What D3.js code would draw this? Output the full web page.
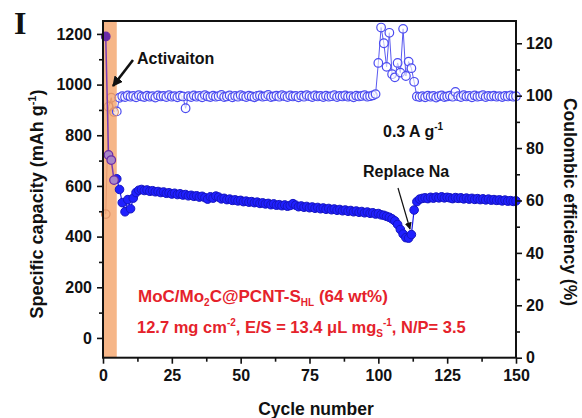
<!DOCTYPE html>
<html>
<head>
<meta charset="utf-8">
<script src="https://cdn.jsdelivr.net/npm/d3@7"></script>
<style>
  html, body { margin: 0; padding: 0; background: #fff; }
  svg text { font-family: Arial, "Liberation Sans", sans-serif; font-weight: bold; }
</style>
</head>
<body>
<div id="chart"></div>
<script>
// activation cycles (shaded band)
var actCycles = [1, 2, 3, 4];
var actCapacity = [1190, 722, 702, 623];
var actCE = [54.8, 95.8, 99.2, 93.8];

// cycles 5..150
var firstCycle = 5;
var capacity = [
  628, 586, 534, 498, 546, 510, 552, 574, 583, 586,
  582, 584, 579, 581, 577, 578, 574, 576, 571, 573,
  568, 571, 566, 569, 564, 566, 561, 563, 559, 561,
  556, 559, 554, 548, 557, 552, 560, 556, 549, 551,
  546, 548, 543, 545, 541, 543, 538, 540, 536, 538,
  534, 536, 531, 533, 529, 531, 526, 529, 524, 526,
  522, 525, 520, 523, 530, 524, 518, 521, 516, 519,
  514, 517, 512, 515, 510, 513, 508, 511, 506, 509,
  504, 507, 502, 505, 500, 503, 498, 501, 496, 499,
  494, 497, 492, 494, 489, 491, 486, 484, 480, 476,
  470, 462, 448, 428, 410, 396, 394, 408, 505, 538,
  548, 551, 553, 550, 555, 552, 556, 553, 557, 553,
  555, 553, 550, 554, 551, 553, 549, 552, 548, 551,
  547, 550, 546, 549, 545, 548, 544, 546, 543, 545,
  541, 544, 540, 542, 539, 541
];
var ce = [
  94.0, 99.2, 99.8, 99.5, 100.1, 99.6, 99.9, 99.4, 100.2, 99.7,
  99.5, 100.0, 99.6, 99.8, 99.3, 100.1, 99.7, 99.9, 99.5, 100.2,
  99.6, 99.8, 99.4, 100.0, 99.7, 95.2, 99.8, 99.5, 100.1, 99.6,
  99.9, 99.4, 100.2, 99.7, 99.5, 100.0, 99.6, 99.8, 100.3, 99.5,
  99.7, 100.1, 99.4, 99.9, 99.6, 100.2, 99.8, 99.5, 100.0, 99.7,
  99.4, 99.9, 100.1, 99.6, 99.8, 100.3, 99.5, 99.7, 100.0, 99.6,
  100.2, 99.8, 99.5, 100.1, 99.7, 99.9, 99.4, 100.0, 99.6, 100.2,
  99.8, 99.5, 100.1, 99.7, 99.9, 99.5, 100.0, 99.6, 99.8, 100.2,
  99.5, 99.9, 99.7, 100.1, 99.6, 99.8, 99.4, 100.0, 99.7, 99.9,
  100.2, 99.6, 99.8, 100.1, 100.6, 112.5, 126.0, 120.0, 111.0, 124.0,
  108.2, 107.0, 112.5, 108.8, 125.5, 107.5, 113.0, 110.5, 105.3, 99.7,
  99.5, 99.8, 99.4, 100.0, 99.6, 99.9, 99.3, 99.8, 100.1, 99.5,
  99.7, 100.0, 99.6, 101.4, 99.8, 99.5, 100.2, 99.7, 99.9, 99.4,
  100.1, 99.6, 99.8, 100.2, 99.5, 99.9, 99.7, 100.0, 99.6, 99.8,
  99.5, 99.9, 99.7, 100.1, 99.6, 99.8
];

var xTicks = [0, 25, 50, 75, 100, 125, 150];
var xMinor = [12.5, 37.5, 62.5, 87.5, 112.5, 137.5];
var capTicks = [0, 200, 400, 600, 800, 1000, 1200];
var capMinor = [100, 300, 500, 700, 900, 1100];
var ceTicks = [0, 20, 40, 60, 80, 100, 120];
var ceMinor = [10, 30, 50, 70, 90, 110];

(function() {
var W = 582, H = 418;
var pL = 103, pR = 516, pT = 21, pB = 357.7;

var svg = d3.select("#chart").append("svg")
  .attr("width", W).attr("height", H);

var defs = svg.append("defs");
defs.append("marker").attr("id", "headBig")
  .attr("viewBox", "0 0 10 10").attr("refX", 9).attr("refY", 5)
  .attr("markerWidth", 4).attr("markerHeight", 4)
  .attr("markerUnits", "strokeWidth").attr("orient", "auto")
  .append("path").attr("d", "M0,0 L10,5 L0,10 z").attr("fill", "#111");
defs.append("marker").attr("id", "headSmall")
  .attr("viewBox", "0 0 10 10").attr("refX", 9).attr("refY", 5)
  .attr("markerWidth", 6).attr("markerHeight", 6)
  .attr("markerUnits", "strokeWidth").attr("orient", "auto")
  .append("path").attr("d", "M0,0 L10,5 L0,10 z").attr("fill", "#111");

var x = d3.scaleLinear().domain([0, 150]).range([pL, pR]);
var yCap = d3.scaleLinear().domain([-78, 1251]).range([pB, pT]);
var yCE = d3.scaleLinear().domain([0, 128.5]).range([pB, pT]);

var cycles = capacity.map(function(d, i) { return firstCycle + i; });
var capData = capacity.map(function(d, i) { return [cycles[i], d]; });
var ceData = ce.map(function(d, i) { return [cycles[i], d]; });
var actCapData = actCapacity.map(function(d, i) { return [actCycles[i], d]; });
var actCEData = actCE.map(function(d, i) { return [actCycles[i], d]; });

// activation band
svg.append("rect")
  .attr("x", x(0)).attr("y", pT)
  .attr("width", x(5) - x(0)).attr("height", pB - pT)
  .attr("fill", "#f6b688");

var lineCap = d3.line().x(function(d) { return x(d[0]); }).y(function(d) { return yCap(d[1]); });
var lineCE = d3.line().x(function(d) { return x(d[0]); }).y(function(d) { return yCE(d[1]); });

// coulombic efficiency
svg.append("path").datum(ceData).attr("d", lineCE)
  .attr("fill", "none").attr("stroke", "#5a5af0").attr("stroke-width", 1);
svg.selectAll(".ce").data(ceData).enter().append("circle")
  .attr("class", "ce")
  .attr("cx", function(d) { return x(d[0]); })
  .attr("cy", function(d) { return yCE(d[1]); })
  .attr("r", 4.3)
  .attr("fill", "#fff").attr("fill-opacity", 0.6)
  .attr("stroke", "#4b4bf0").attr("stroke-width", 1.2);

svg.append("path").datum(actCEData).attr("d", lineCE)
  .attr("fill", "none").attr("stroke", "#e49a70").attr("stroke-width", 1);
svg.selectAll(".actce").data(actCEData).enter().append("circle")
  .attr("class", "actce")
  .attr("cx", function(d) { return x(d[0]); })
  .attr("cy", function(d) { return yCE(d[1]); })
  .attr("r", 4.3)
  .attr("fill", "none")
  .attr("stroke", "#e0946a").attr("stroke-width", 1.2);

// capacity
svg.append("path").datum(capData).attr("d", lineCap)
  .attr("fill", "none").attr("stroke", "#1a1ae8").attr("stroke-width", 1.2);
svg.selectAll(".cap").data(capData).enter().append("circle")
  .attr("class", "cap")
  .attr("cx", function(d) { return x(d[0]); })
  .attr("cy", function(d) { return yCap(d[1]); })
  .attr("r", 4.3)
  .attr("fill", "#2020ff")
  .attr("stroke", "#1515c0").attr("stroke-width", 1);

svg.append("path").datum(actCapData).attr("d", lineCap)
  .attr("fill", "none").attr("stroke", "#7a3cb4").attr("stroke-width", 1.5);
svg.selectAll(".actcap").data(actCapData).enter().append("circle")
  .attr("class", "actcap")
  .attr("cx", function(d) { return x(d[0]); })
  .attr("cy", function(d) { return yCap(d[1]); })
  .attr("r", 4.3)
  .attr("fill", function(d, i) { return i === 0 ? "#6a2aa8" : "#a887c8"; })
  .attr("stroke", "#6a2aa8").attr("stroke-width", 1.2);

// axes
function styleAxis(g) {
  g.selectAll(".domain").remove();
  g.selectAll(".tick line").attr("stroke", "#111").attr("stroke-width", 1.6);
  g.selectAll(".tick text").attr("fill", "#111")
    .style("font-family", "Arial, 'Liberation Sans', sans-serif")
    .style("font-weight", "bold").style("font-size", "16px");
}

svg.append("g").attr("transform", "translate(0," + pB + ")")
  .call(d3.axisBottom(x).tickValues(xTicks).tickSize(6).tickPadding(6).tickFormat(d3.format("d")))
  .call(styleAxis);
svg.append("g").attr("transform", "translate(0," + pB + ")")
  .call(d3.axisBottom(x).tickValues(xMinor).tickSize(4).tickFormat(""))
  .call(styleAxis);

svg.append("g").attr("transform", "translate(" + pL + ",0)")
  .call(d3.axisLeft(yCap).tickValues(capTicks).tickSize(6).tickPadding(5).tickFormat(d3.format("d")))
  .call(styleAxis);
svg.append("g").attr("transform", "translate(" + pL + ",0)")
  .call(d3.axisLeft(yCap).tickValues(capMinor).tickSize(4).tickFormat(""))
  .call(styleAxis);

svg.append("g").attr("transform", "translate(" + pR + ",0)")
  .call(d3.axisRight(yCE).tickValues(ceTicks).tickSize(6).tickPadding(4).tickFormat(d3.format("d")))
  .call(styleAxis);
svg.append("g").attr("transform", "translate(" + pR + ",0)")
  .call(d3.axisRight(yCE).tickValues(ceMinor).tickSize(4).tickFormat(""))
  .call(styleAxis);

// frame
svg.append("rect")
  .attr("x", pL).attr("y", pT)
  .attr("width", pR - pL).attr("height", pB - pT)
  .attr("fill", "none").attr("stroke", "#111").attr("stroke-width", 2);

// axis titles
svg.append("text")
  .attr("x", 316).attr("y", 415)
  .attr("text-anchor", "middle").style("font-size", "17.5px").attr("fill", "#111")
  .text("Cycle number");

var yl = svg.append("text")
  .attr("transform", "translate(43,204) rotate(-90)")
  .attr("text-anchor", "middle").style("font-size", "18px").attr("fill", "#111");
yl.append("tspan").text("Specific capacity (mAh g");
yl.append("tspan").attr("dy", -7).style("font-size", "11px").text("-1");
yl.append("tspan").attr("dy", 7).text(")");

svg.append("text")
  .attr("transform", "translate(564,202) rotate(90)")
  .attr("text-anchor", "middle").style("font-size", "17.5px").attr("fill", "#111")
  .text("Coulombic efficiency (%)");

// panel letter
svg.append("text")
  .attr("x", 14).attr("y", 34)
  .style("font-family", "'Liberation Serif', 'Times New Roman', serif")
  .style("font-size", "32px").attr("fill", "#111")
  .text("I");

// annotations
svg.append("text").attr("x", 137).attr("y", 64)
  .style("font-size", "16px").attr("fill", "#111").text("Activaiton");
svg.append("line")
  .attr("x1", 133).attr("y1", 60).attr("x2", 113).attr("y2", 86)
  .attr("stroke", "#111").attr("stroke-width", 2.6)
  .attr("marker-end", "url(#headBig)");

var cur = svg.append("text").attr("x", 383).attr("y", 137)
  .style("font-size", "16px").attr("fill", "#111");
cur.append("tspan").text("0.3 A g");
cur.append("tspan").attr("dy", -7).style("font-size", "10px").text("-1");

svg.append("text").attr("x", 363).attr("y", 177)
  .style("font-size", "16px").attr("fill", "#111").text("Replace Na");
svg.append("line")
  .attr("x1", 398).attr("y1", 188).attr("x2", 410).attr("y2", 229)
  .attr("stroke", "#111").attr("stroke-width", 1.2)
  .attr("marker-end", "url(#headSmall)");

var red = "#e5222b";
var t1 = svg.append("text").attr("x", 138).attr("y", 302)
  .style("font-size", "17px").attr("fill", red);
t1.append("tspan").text("MoC/Mo");
t1.append("tspan").attr("dy", 4).style("font-size", "10px").text("2");
t1.append("tspan").attr("dy", -4).text("C@PCNT-S");
t1.append("tspan").attr("dy", 4).style("font-size", "10px").text("HL");
t1.append("tspan").attr("dy", -4).text(" (64 wt%)");

var t2 = svg.append("text").attr("x", 137).attr("y", 333)
  .style("font-size", "16.5px").attr("fill", red);
t2.append("tspan").text("12.7 mg cm");
t2.append("tspan").attr("dy", -7).style("font-size", "10px").text("-2");
t2.append("tspan").attr("dy", 7).text(", E/S = 13.4 \u03bcL mg");
t2.append("tspan").attr("dy", 4).style("font-size", "10px").text("S");
t2.append("tspan").attr("dy", -11).style("font-size", "10px").text("-1");
t2.append("tspan").attr("dy", 7).text(", N/P= 3.5");
})();
</script>
</body>
</html>
